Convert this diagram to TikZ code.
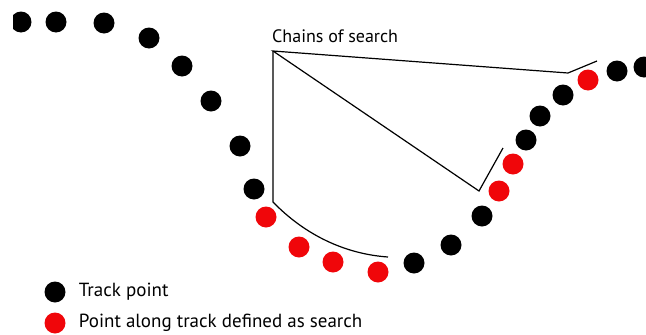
\documentclass[tikz,border=0pt]{standalone}
\usepackage{fontspec}
\setmainfont{PT Sans}
\usetikzlibrary{positioning}

\definecolor{searchred}{RGB}{240,6,10}
\tikzset{
  trackpt/.style={circle, fill=black, inner sep=0pt, minimum size=21pt},
  searchpt/.style={circle, fill=searchred, inner sep=0pt, minimum size=21pt},
  chain/.style={line width=1.2pt, black},
  legendtext/.style={font=\fontsize{19}{22}\selectfont, anchor=west, inner sep=0pt}
}

\begin{document}
\begin{tikzpicture}[x=1pt, y=-1pt]
\useasboundingbox (0,0) rectangle (646,335);
% track points along the curve
\begin{scope}
\clip (13,0) rectangle (646,335);
\node[trackpt] (t1) at (21,22) {};
\end{scope}
\node[trackpt] (t2) at (56,22) {};
\node[trackpt] (t3) at (104,23) {};
\node[trackpt] (t4) at (149,38) {};
\node[trackpt] (t5) at (182,66) {};
\node[trackpt] (t6) at (211,101) {};
\node[trackpt] (t7) at (240,146) {};
\node[trackpt] (t8) at (254,189) {};
\node[searchpt] (s1) at (266,217) {};
\node[searchpt] (s2) at (299,247) {};
\node[searchpt] (s3) at (333,262) {};
\node[searchpt] (s4) at (378,272) {};
\node[trackpt] (t9) at (414,263) {};
\node[trackpt] (t10) at (451,245) {};
\node[trackpt] (t11) at (482,216) {};
\node[searchpt] (s5) at (499,191) {};
\node[searchpt] (s6) at (513,164) {};
\node[trackpt] (t12) at (526,140) {};
\node[trackpt] (t13) at (540,116) {};
\node[trackpt] (t14) at (563,95) {};
\node[searchpt] (s7) at (588,80) {};
\node[trackpt] (t15) at (617,71) {};
\begin{scope}
\clip (0,0) rectangle (646,335);
\node[trackpt] (t16) at (644,67) {};
\end{scope}
% chains of search
\node[legendtext, font=\fontsize{18}{21}\selectfont] (title) at (272,36) {Chains of search};
\coordinate (apex) at (273,51);
\coordinate (c1) at (568,73);
\coordinate (c1end) at (597,61);
\coordinate (c2) at (479,191);
\coordinate (c2end) at (503,148);
\coordinate (c3) at (273,202);
\coordinate (c3end) at (388,257);
\draw[chain] (c1end) -- (c1) -- (apex) -- (c2) -- (c2end);
\draw[chain] (apex) -- (c3) .. controls (305,235) and (345,254) .. (c3end);
% legend
\node[trackpt] (keytrack) at (55,292) {};
\node[legendtext, right=13pt of keytrack] (keytracktext) {Track point};
\node[searchpt] (keysearch) at (55,323) {};
\node[legendtext, right=13pt of keysearch] (keysearchtext) {Point along track defined as search};
\end{tikzpicture}
\end{document}
